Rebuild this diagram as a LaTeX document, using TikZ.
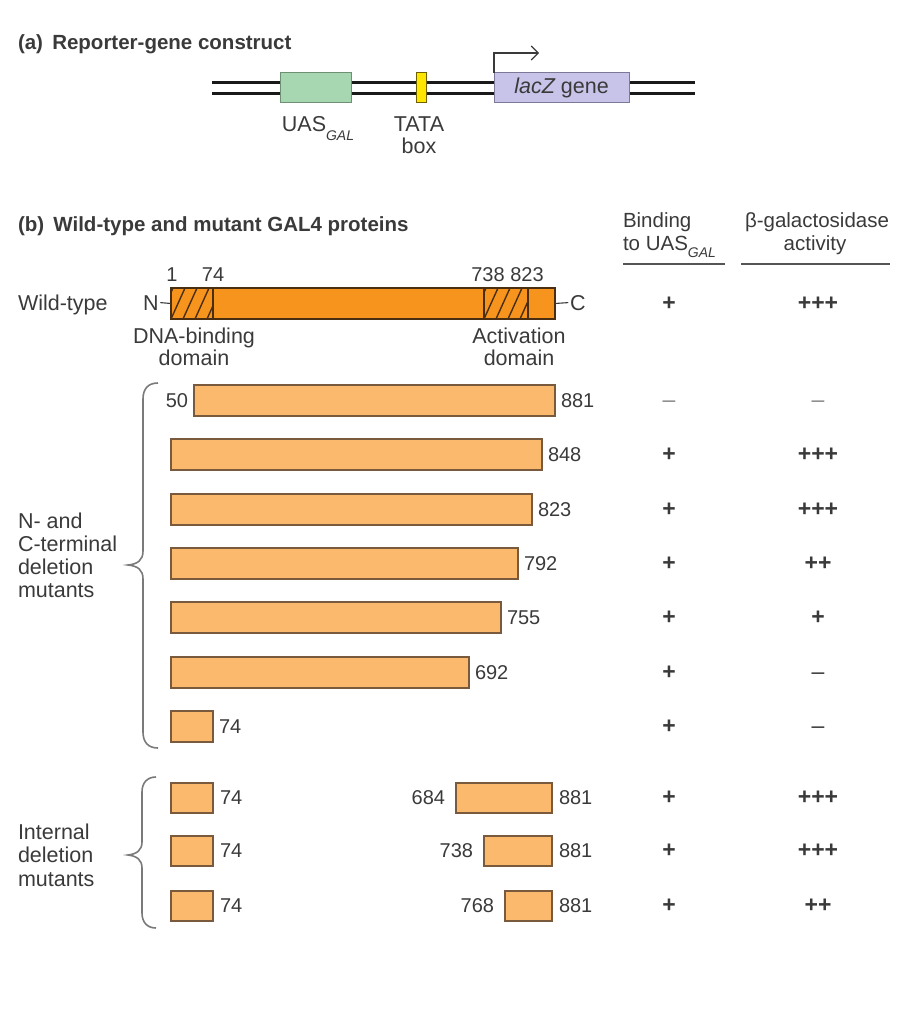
\documentclass[tikz,border=0pt]{standalone}
\usepackage{fontspec}
\setmainfont{Liberation Sans}
\usetikzlibrary{arrows.meta,positioning,calc}
\definecolor{txt}{HTML}{3A3A3A}
\definecolor{uasfill}{HTML}{A7D7B0}
\definecolor{uasdraw}{HTML}{6F8F75}
\definecolor{tatafill}{HTML}{FFE600}
\definecolor{tatadraw}{HTML}{6E6200}
\definecolor{laczfill}{HTML}{C8C3E8}
\definecolor{laczdraw}{HTML}{7C7898}
\definecolor{wtfill}{HTML}{F7941E}
\definecolor{wtdraw}{HTML}{4A2E12}
\definecolor{mfill}{HTML}{FBB96E}
\definecolor{mdraw}{HTML}{7A5A3C}
\definecolor{bracecol}{HTML}{7A7A7A}
\definecolor{rulecol}{HTML}{555555}
\definecolor{lightdash}{HTML}{8A8A8A}
\newcommand\subGAL{\raisebox{-0.38em}{\fontsize{14}{14}\selectfont\itshape GAL}}
\newcommand\mydash{{\mdseries\textendash}}
\newcommand\mylightdash{{\mdseries\color{lightdash}\textendash}}
\begin{document}
\begin{tikzpicture}[x=1pt,y=-1pt,
  every node/.style={inner sep=0pt, outer sep=0pt, text=txt, font=\fontsize{21.5}{25}\selectfont},
  num/.style={font=\fontsize{20}{24}\selectfont},
  head/.style={font=\fontsize{20.5}{24}\selectfont},
  title/.style={anchor=base west, font=\bfseries\fontsize{20.5}{24}\selectfont},
  dna/.style={line width=3pt, draw=black!90},
  uasbox/.style={draw=uasdraw, fill=uasfill, line width=1pt, anchor=north west, minimum height=30},
  tatabox/.style={draw=tatadraw, fill=tatafill, line width=1pt, anchor=north west, minimum height=30},
  laczbox/.style={draw=laczdraw, fill=laczfill, line width=1pt, anchor=north west, minimum height=30},
  tss/.style={draw=txt, line width=1.1pt, -{Straight Barb[length=7pt,width=14pt]}},
  wtbar/.style={draw=wtdraw, fill=wtfill, line width=1.1pt, anchor=north west, minimum height=31},
  mbar/.style={draw=mdraw, fill=mfill, line width=1.2pt, anchor=north west, minimum height=31},
  ibar/.style={draw=mdraw, fill=mfill, line width=1.2pt, anchor=north west, minimum height=30},
  hatch/.style={draw=wtdraw, line width=1.4pt},
  tick/.style={draw=txt, line width=1.1pt},
  rule/.style={draw=rulecol, line width=1.2pt},
  bracepath/.style={draw=bracecol, line width=1.6pt},
  pm/.style={anchor=base, font=\bfseries\fontsize{23}{26}\selectfont}
]
\useasboundingbox (0,0) rectangle (905,1024);

% ---------------- (a) ----------------
\node[title] (ta) at (18,50) {(a)\hspace{0.45em}Reporter-gene construct};
\coordinate (dnaL1) at (212,83); \coordinate (dnaR1) at (695,83);
\coordinate (dnaL2) at (212,94); \coordinate (dnaR2) at (695,94);
\draw[dna] (dnaL1) -- (dnaR1);
\draw[dna] (dnaL2) -- (dnaR2);
\node[uasbox, minimum width=71] (uas) at (280,73) {};
\node[tatabox, minimum width=10] (tata) at (416,73) {};
\node[laczbox, minimum width=135] (lacz) at (494,73) {\itshape lacZ\upshape\ gene};
\coordinate (tssend) at (539,53);
\draw[tss] (lacz.north west) |- (tssend);
\node[anchor=base] (uaslbl) at (318,132) {UAS\subGAL};
\node[anchor=base] (tatalbl) at (419,132) {TATA};
\node[anchor=base] (boxlbl) at (419,154) {box};

% ---------------- (b) header ----------------
\node[title] (tb) at (18,232) {(b)\hspace{0.45em}Wild-type and mutant GAL4 proteins};
\node[head, anchor=base west] (bind1) at (623,227) {Binding};
\node[head, anchor=base west] (bind2) at (623,250) {to UAS\subGAL};
\node[head, anchor=base] (act1) at (817,227) {β-galactosidase};
\node[head, anchor=base] (act2) at (815,250) {activity};
\coordinate (r1a) at (623,264); \coordinate (r1b) at (725,264);
\coordinate (r2a) at (741,264); \coordinate (r2b) at (890,264);
\draw[rule] (r1a) -- (r1b);
\draw[rule] (r2a) -- (r2b);

% ---------------- wild type ----------------
\node[anchor=base west] (wtlbl) at (18,310) {Wild-type};
\node[wtbar, minimum width=384] (wt) at (171,288) {};
\begin{scope}
  \clip (171,288) rectangle (213,319);
  \foreach \i in {-1,...,4} \draw[hatch] (171+\i*12,319) -- ++(14,-31);
\end{scope}
\begin{scope}
  \clip (484,288) rectangle (528,319);
  \foreach \i in {-1,...,4} \draw[hatch] (484+\i*12,319) -- ++(14,-31);
\end{scope}
\draw[hatch] (213,288) -- (213,319);
\draw[hatch] (484,288) -- (484,319);
\draw[hatch] (528,288) -- (528,319);
\node[draw=wtdraw, line width=1.1pt, anchor=north west, minimum width=384, minimum height=31] (wtframe) at (171,288) {};
\node[num, anchor=base] (n1) at (172,281) {1};
\node[num, anchor=base] (n74) at (213,281) {74};
\node[num, anchor=base] (n738) at (488,281) {738};
\node[num, anchor=base] (n823) at (527,281) {823};
\node[anchor=base] (nlab) at (151,310) {N};
\node[anchor=base] (clab) at (578,310) {C};
\draw[tick] ([xshift=1.5pt]nlab.east) -- (wt.west);
\draw[tick] (wt.east) -- ([xshift=-2pt]clab.west);
\node[anchor=base] (dbd1) at (194,343) {DNA-binding};
\node[anchor=base] (dbd2) at (194,365) {domain};
\node[anchor=base] (ad1) at (519,343) {Activation};
\node[anchor=base] (ad2) at (519,365) {domain};
\node[pm] (wtb) at (669,310) {+};
\node[pm] (wta) at (818,310) {+++};

% ---------------- N- and C-terminal deletions ----------------
\foreach \n/\l/\r/\t/\lab/\bi/\ac in {
   r1/194/555/385/881/\mylightdash/\mylightdash,
   r2/171/542/439/848/+/+++,
   r3/171/532/494/823/+/+++,
   r4/171/518/548/792/+/++,
   r5/171/501/602/755/+/+,
   r6/171/469/657/692/+/\mydash,
   r7/171/213/711/74/+/\mydash}
{
  \pgfmathsetmacro{\w}{\r-\l}
  \node[mbar, minimum width=\w] (\n) at (\l,\t) {};
  \node[num, right=6pt of \n] (\n-r) {\lab};
  \node[pm] (\n-b) at (669,\t+22) {\bi};
  \node[pm] (\n-a) at (818,\t+22) {\ac};
}
\node[num, left=6pt of r1] (r1-l) {50};

\draw[bracepath] (158,383) .. controls (148,383) and (143,389) .. (143,399)
  -- (143,551) .. controls (143,560) and (138,564) .. (128,565)
  .. controls (138,566) and (143,570) .. (143,579)
  -- (143,732) .. controls (143,742) and (148,748) .. (158,748);
\node[anchor=base west] (nc1) at (18,528) {N- and};
\node[anchor=base west] (nc2) at (18,551) {C-terminal};
\node[anchor=base west] (nc3) at (18,574) {deletion};
\node[anchor=base west] (nc4) at (18,597) {mutants};

% ---------------- internal deletions ----------------
\foreach \n/\l/\t/\lab/\ac in {
   i1/456/783/684/+++,
   i2/484/836/738/+++,
   i3/505/891/768/++}
{
  \pgfmathsetmacro{\w}{552-\l}
  \node[ibar, minimum width=42] (\n-a) at (171,\t) {};
  \node[num, right=7pt of \n-a] (\n-al) {74};
  \node[ibar, minimum width=\w] (\n-c) at (\l,\t) {};
  \node[num, left=11pt of \n-c] (\n-cl) {\lab};
  \node[num, right=7pt of \n-c] (\n-cr) {881};
  \node[pm] (\n-pb) at (669,\t+21.5) {+};
  \node[pm] (\n-pa) at (818,\t+21.5) {\ac};
}
\draw[bracepath] (156,777) .. controls (147,777) and (142,783) .. (142,792)
  -- (142,842) .. controls (142,850) and (137,854) .. (128,855)
  .. controls (137,856) and (142,860) .. (142,868)
  -- (142,913) .. controls (142,922) and (147,928) .. (156,928);
\node[anchor=base west] (in1) at (18,839) {Internal};
\node[anchor=base west] (in2) at (18,862) {deletion};
\node[anchor=base west] (in3) at (18,886) {mutants};
\end{tikzpicture}
\end{document}
